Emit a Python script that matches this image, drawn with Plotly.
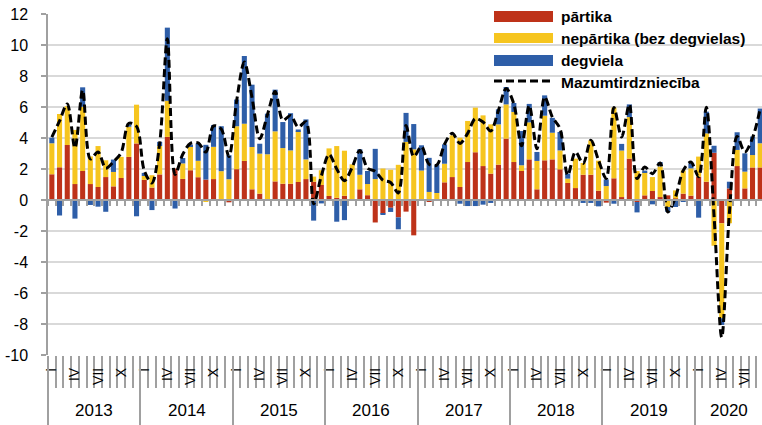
import plotly.graph_objects as go

# ---------------- data ----------------
years = ["2013", "2014", "2015", "2016", "2017", "2018", "2019", "2020"]
roman = ["I", "II", "III", "IV", "V", "VI", "VII", "VIII", "IX", "X", "XI", "XII"]
shown_months = ["I", "IV", "VII", "X"]
n_months = 93  # I.2013 - IX.2020
month_labels = [m for y in years for m in roman][:n_months]

partika = [
    1.66, 2.11, 3.55, 1.03, 1.87, 1.03, 0.84, 1.48, 0.88, 1.42, 2.78, 3.65,
    1.30, 0.80, 1.65, 4.07, 2.03, 1.36, 1.92, 1.47, 1.32, 1.35, 0.00, -0.15,
    1.99, 2.52, 0.69, 0.41, 0.00, 1.20, 1.05, 1.05, 1.16, 1.35, 1.18, 0.97,
    0.26, 0.14, 0.27, 0.00, 0.69, 0.31, -1.45, -0.88, -0.50, -1.12, -0.75, -2.28,
    0.00, -0.10, 0.00, 1.14, 1.48, 0.84, 2.45, 3.08, 2.19, 1.70, 2.28, 3.96,
    2.45, 1.87, 2.62, 0.69, 2.56, 2.62, 1.98, 1.10, 0.77, 1.63, 1.63, 0.60,
    -0.17, 1.40, 0.19, 2.67, -0.13, 0.30, 0.58, 0.19, 0.30, 0.10, 0.41, 0.28,
    1.50, 1.18, 3.05, -1.50, 0.75, 2.19, 0.75, 2.10, 2.10,
]
nepartika = [
    2.00, 3.44, 2.50, 3.49, 4.15, 1.78, 2.64, 1.08, 0.93, 1.36, 1.95, 2.50,
    0.25, 0.80, 1.83, 2.33, 0.00, 1.00, 1.50, 1.06, -0.10, 2.08, 1.86, 1.34,
    2.77, 2.40, 2.73, 2.58, 2.95, 3.23, 2.30, 2.15, 3.29, 1.27, 0.33, 0.95,
    3.07, 3.34, 2.91, 2.30, 0.94, 0.72, 1.35, 2.03, 1.95, 2.27, 3.75, 3.27,
    1.90, 0.52, 0.45, 1.20, 2.69, 3.18, 2.65, 2.88, 3.27, 3.18, 2.60, 2.21,
    3.23, 0.37, 2.39, 1.83, 2.88, 1.72, 1.22, 0.28, 1.90, 0.76, 2.22, 1.94,
    0.90, 4.56, 3.00, 2.68, 1.87, 1.50, 0.90, 1.98, -0.45, 0.52, 1.50, 1.76,
    1.30, 3.12, -2.95, -6.13, -1.50, 1.04, 1.08, 0.80, 1.56,
]
degviela = [
    0.36, -1.00, 0.00, -1.20, 1.25, -0.32, -0.43, -0.76, 0.80, 0.00, 0.15, -1.05,
    0.20, -0.65, 0.27, 4.72, -0.55, 0.35, 0.15, 1.12, 2.24, 1.40, 2.90, 1.55,
    1.72, 4.37, 4.02, 0.64, 2.62, 2.69, 1.68, 2.40, 0.10, 2.58, -1.33, -0.22,
    0.00, -1.40, -1.30, 0.00, 1.64, 0.84, 1.95, -0.05, -0.27, -0.77, 1.87, 1.63,
    1.63, 2.20, 1.80, 1.25, 0.00, -0.24, -0.39, -0.39, -0.30, -0.19, 0.97, 1.12,
    0.58, 2.21, 1.19, 0.58, 1.31, 0.96, 1.19, 0.32, 0.00, -0.19, -0.19, -0.41,
    0.43, -0.24, 0.43, 0.82, -0.67, 0.10, -0.28, 0.28, -0.32, -0.45, -0.10, 0.33,
    -1.14, 1.40, 0.45, -0.43, 0.43, 1.14, 1.18, 1.19, 2.24,
]
mazumtirdznieciba = [
    4.05, 5.10, 6.20, 3.35, 7.10, 2.65, 3.10, 2.05, 2.47, 3.05, 4.95, 4.75,
    1.90, 1.10, 3.65, 10.40, 1.65, 2.95, 3.65, 3.68, 3.10, 4.78, 4.58, 2.80,
    6.40, 8.90, 6.60, 3.95, 5.50, 7.00, 5.14, 5.45, 4.70, 5.05, -0.25, 1.55,
    2.95, 2.00, 1.25, 2.10, 3.20, 2.05, 1.85, 1.28, 1.13, 0.45, 4.80, 2.80,
    3.45, 2.30, 2.25, 3.60, 4.30, 3.65, 4.30, 5.25, 5.03, 4.45, 5.78, 7.20,
    6.20, 3.50, 6.10, 3.30, 6.65, 5.35, 4.60, 1.60, 3.10, 2.35, 3.85, 2.56,
    1.38, 5.96, 4.06, 6.17, 1.38, 2.13, 1.70, 2.39, -0.77, 0.19, 1.91, 2.45,
    1.50, 5.98, -1.00, -8.86, -0.80, 4.10, 3.10, 4.00, 5.90,
]
series_names = ["pārtika", "nepārtika (bez degvielas)", "degviela", "Mazumtirdzniecība"]
y_ticks = [12, 10, 8, 6, 4, 2, 0, -2, -4, -6, -8, -10]
y_ticktext = [str(v) for v in y_ticks]

# ---------------- style ----------------
RED = "#BE3219"
YELLOW = "#F6C51F"
BLUE = "#2E5EA8"
GRID = "#D9D9D9"
AXIS = "#A0A0A0"
FONT = "Liberation Sans"

x = list(range(n_months))
XR = [-0.5, 92.23]
YR = [-10, 12]
boundaries = [i - 0.5 for i in range(n_months + 1)]
year_bounds = [12 * k - 0.5 for k in range(len(years))]
label_pos = [i for i, m in enumerate(month_labels) if m in shown_months]
label_txt = [month_labels[i] for i in label_pos]

fig = go.Figure()
for vals, col, name in [(partika, RED, series_names[0]),
                        (nepartika, YELLOW, series_names[1]),
                        (degviela, BLUE, series_names[2])]:
    fig.add_trace(go.Bar(x=x, y=vals, name=name, marker=dict(color=col, line=dict(width=0)),
                         showlegend=False))
fig.add_trace(go.Scatter(x=x, y=mazumtirdznieciba, name=series_names[3], mode="lines",
                         line=dict(color="black", width=3, dash="8px,4px", shape="spline",
                                   smoothing=0.9),
                         showlegend=False))

fig.update_layout(
    width=762, height=425,
    margin=dict(l=48, r=0, t=14, b=70),
    paper_bgcolor="white", plot_bgcolor="white",
    barmode="relative", bargap=0.34,
    font=dict(family=FONT, color="black"),
    xaxis=dict(range=XR, showgrid=False, zeroline=False, showline=False,
               tickmode="array", tickvals=boundaries, ticks="outside", ticklen=32,
               tickwidth=1.5, tickcolor=AXIS, showticklabels=False),
    xaxis2=dict(range=XR, overlaying="x", anchor="free", position=10 / 22,
                showgrid=False, zeroline=False, showline=True, linecolor=AXIS, linewidth=2,
                tickmode="array", tickvals=boundaries, ticks="outside", ticklen=5,
                tickwidth=1.5, tickcolor=AXIS, showticklabels=False),
    xaxis3=dict(range=XR, overlaying="x", anchor="y", side="bottom",
                showgrid=False, zeroline=False, showline=False,
                tickmode="array", tickvals=label_pos, ticktext=label_txt, ticks="",
                tickangle=-90, ticklabelstandoff=9, tickfont=dict(size=14, family=FONT)),
    xaxis4=dict(range=XR, overlaying="x", anchor="y", side="bottom",
                showgrid=False, zeroline=False, showline=False,
                tickmode="array", tickvals=year_bounds, ticks="outside", ticklen=70,
                tickwidth=1.5, tickcolor=AXIS, showticklabels=False),
    yaxis=dict(range=YR, tickmode="array", tickvals=y_ticks, ticktext=y_ticktext,
               showgrid=True, gridcolor=GRID, gridwidth=1.5, zeroline=False,
               showline=True, linecolor=AXIS, linewidth=1.5,
               ticks="outside", ticklen=5, tickcolor=AXIS, tickwidth=1.5,
               ticklabelstandoff=10, tickfont=dict(size=16, family=FONT)),
)

# invisible traces to bind the overlay axes
for ax in ["x2", "x3", "x4"]:
    fig.add_trace(go.Scatter(x=[None], y=[None], xaxis=ax, yaxis="y", showlegend=False,
                             hoverinfo="skip"))

# year labels
year_centers = []
for k, yname in enumerate(years):
    idx = [i for i in range(n_months) if i // 12 == k]
    year_centers.append((idx[0] + idx[-1]) / 2)
for yc, yname in zip(year_centers, years):
    fig.add_annotation(x=yc, y=-0.164, xref="x", yref="paper", text=yname,
                       showarrow=False, xanchor="center", yanchor="middle",
                       font=dict(size=17, family=FONT, color="black"))

# manual legend (wide swatches as in the original)
def px_x(v):
    return (v - 48) / 714

def px_y(v):
    return (355 - v) / 341

legend_items = [(series_names[0], RED, 11, 22, 16.5),
                (series_names[1], YELLOW, 33, 43, 38.5),
                (series_names[2], BLUE, 55, 66, 60.5)]
for name, col, top, bot, mid in legend_items:
    fig.add_shape(type="rect", xref="paper", yref="paper",
                  x0=px_x(494), x1=px_x(553), y0=px_y(bot), y1=px_y(top),
                  fillcolor=col, line=dict(width=0))
    fig.add_annotation(x=px_x(559), y=px_y(mid), xref="paper", yref="paper",
                       text="<b>" + name + "</b>", showarrow=False,
                       xanchor="left", yanchor="middle",
                       font=dict(size=15.5, family=FONT, color="black"))
fig.add_shape(type="line", xref="paper", yref="paper",
              x0=px_x(494), x1=px_x(553), y0=px_y(81), y1=px_y(81),
              line=dict(color="black", width=3, dash="8px,4px"))
fig.add_annotation(x=px_x(559), y=px_y(82), xref="paper", yref="paper",
                   text="<b>" + series_names[3] + "</b>", showarrow=False,
                   xanchor="left", yanchor="middle",
                   font=dict(size=15.5, family=FONT, color="black"))

fig.write_html("out.html",
               config={"displayModeBar": False},
               post_script="document.body.style.margin='0';document.body.style.overflow='hidden';")
